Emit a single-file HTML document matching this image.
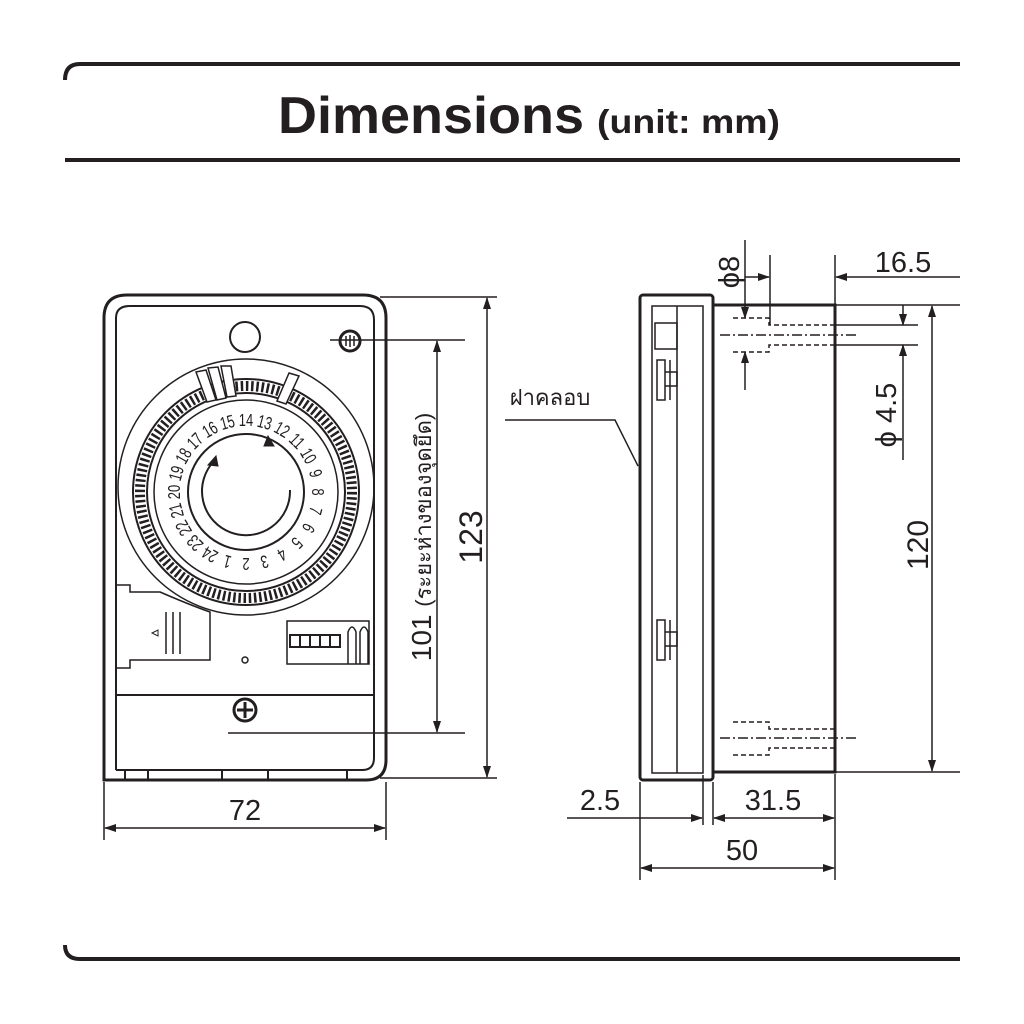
<!DOCTYPE html>
<html><head><meta charset="utf-8"><style>
html,body{margin:0;padding:0;background:#fff;}
svg{display:block;}
text{font-family:"Liberation Sans","Noto Sans CJK SC",sans-serif;fill:#231f20;}
</style></head><body>
<svg width="1024" height="1024" viewBox="0 0 1024 1024" xmlns="http://www.w3.org/2000/svg">
<defs>
<marker id="a" markerWidth="12" markerHeight="8" refX="11" refY="4" orient="auto-start-reverse" markerUnits="userSpaceOnUse"><path d="M0,0 L12,4 L0,8 Z" fill="#231f20"/></marker>
</defs>
<g stroke="#231f20" fill="none">
<path d="M65,80 Q65,64 80,64 L960,64" stroke-width="4"/>
<line x1="65" y1="160" x2="960" y2="160" stroke-width="4"/>
<path d="M65,945 Q65,959 80,959 L960,959" stroke-width="4"/>
</g>
<text x="278" y="133" font-size="52" font-weight="bold" textLength="306" lengthAdjust="spacingAndGlyphs">Dimensions</text>
<text x="597" y="133" font-size="33" font-weight="bold" textLength="183" lengthAdjust="spacingAndGlyphs">(unit: mm)</text>

<g stroke="#231f20" fill="none" stroke-width="3">
<path d="M104,780 L104,318 Q104,295 127,295 L363,295 Q386,295 386,318 L386,760 Q386,780 366,780 Z"/>
<path d="M116,770 L116,318 Q116,306 130,306 L360,306 Q374,306 374,320 L374,758 Q374,770 362,770 L116,770" stroke-width="2"/>
<path d="M125,770 L125,780 M148,770 L148,780 M222,770 L222,780 M268,770 L268,780 M347,770 L347,780" stroke-width="2"/>
<line x1="116" y1="695" x2="374" y2="695" stroke-width="2"/>
<circle cx="245" cy="337" r="15" stroke-width="2"/>
<circle cx="350" cy="341" r="10" stroke-width="3"/>
<path d="M346,336v10M350,335v12M354,336v10" stroke-width="1.5"/>
<circle cx="245" cy="710" r="11" stroke-width="3"/>
<path d="M245,702v16M237,710h16" stroke-width="3"/>
<circle cx="245" cy="660" r="3" stroke-width="1.5"/>
<circle cx="246" cy="487" r="128" stroke-width="1.5"/>
<circle cx="246" cy="492" r="113" stroke-width="2"/>
<circle cx="246" cy="492" r="106" stroke-width="10" stroke-dasharray="2.5 2.7"/>
<circle cx="246" cy="492" r="99" stroke-width="2"/>
<circle cx="246" cy="492" r="92" stroke-width="1.5"/>
<circle cx="246" cy="492" r="58" stroke-width="2"/>
<path d="M290,490 A44,44 0 1 1 214,461" stroke-width="2"/>
<path d="M208,465 L216,456 L218,466 Z" fill="#231f20" stroke-width="1"/>
<path d="M268,436 L274,446 L264,446 Z" fill="#231f20" stroke-width="1"/>
<path d="M196,372 L206,370 L216,400 L207,402 Z M208,368 L218,367 L226,398 L217,400 Z M221,366 L231,366 L236,396 L227,397 Z M289,373 L299,376 L286,404 L277,401 Z" fill="#fff" stroke-width="1.5"/>
<path d="M116,585 L130,585 L130,592 L160,592 Q190,605 210,612 L210,660 L130,660 L130,668 L116,668" stroke-width="1.5"/>
<path d="M166,612v42M173,612v42M180,612v42" stroke-width="1.5"/>
<path d="M152,633 L158,630 L158,636 Z" stroke-width="1"/>
<rect x="287" y="621" width="82" height="43" stroke-width="1.5"/>
<rect x="290" y="635" width="50" height="12" stroke-width="2"/>
<path d="M300,635v12M310,635v12M320,635v12M330,635v12" stroke-width="2"/>
<path d="M348,664 L348,632 Q352,622 356,632 L356,664 M360,664 L360,632 Q364,622 368,632 L368,664" stroke-width="1.5"/>
<g stroke-width="1.5">
<line x1="380" y1="297" x2="497" y2="297"/>
<line x1="380" y1="778" x2="497" y2="778"/>
<line x1="487" y1="298" x2="487" y2="777" marker-start="url(#a)" marker-end="url(#a)"/>
<line x1="330" y1="340" x2="465" y2="340"/>
<line x1="228" y1="733" x2="465" y2="733"/>
<line x1="437" y1="341" x2="437" y2="732" marker-start="url(#a)" marker-end="url(#a)"/>
<line x1="104" y1="782" x2="104" y2="840"/>
<line x1="386" y1="782" x2="386" y2="840"/>
<line x1="105" y1="828" x2="385" y2="828" marker-start="url(#a)" marker-end="url(#a)"/>
</g>
</g>
<g font-size="18" text-anchor="middle" font-family="Liberation Sans Narrow, Liberation Sans, sans-serif">
<text transform="translate(246,492) rotate(0) translate(0,-66) scale(0.72,1)">14</text>
<text transform="translate(246,492) rotate(15) translate(0,-66) scale(0.72,1)">13</text>
<text transform="translate(246,492) rotate(30) translate(0,-66) scale(0.72,1)">12</text>
<text transform="translate(246,492) rotate(45) translate(0,-66) scale(0.72,1)">11</text>
<text transform="translate(246,492) rotate(60) translate(0,-66) scale(0.72,1)">10</text>
<text transform="translate(246,492) rotate(75) translate(0,-66) scale(0.72,1)">9</text>
<text transform="translate(246,492) rotate(90) translate(0,-66) scale(0.72,1)">8</text>
<text transform="translate(246,492) rotate(105) translate(0,-66) scale(0.72,1)">7</text>
<text transform="translate(246,492) rotate(120) translate(0,-66) scale(0.72,1)">6</text>
<text transform="translate(246,492) rotate(135) translate(0,-66) scale(0.72,1)">5</text>
<text transform="translate(246,492) rotate(150) translate(0,-66) scale(0.72,1)">4</text>
<text transform="translate(246,492) rotate(165) translate(0,-66) scale(0.72,1)">3</text>
<text transform="translate(246,492) rotate(180) translate(0,-66) scale(0.72,1)">2</text>
<text transform="translate(246,492) rotate(195) translate(0,-66) scale(0.72,1)">1</text>
<text transform="translate(246,492) rotate(210) translate(0,-66) scale(0.72,1)">24</text>
<text transform="translate(246,492) rotate(225) translate(0,-66) scale(0.72,1)">23</text>
<text transform="translate(246,492) rotate(240) translate(0,-66) scale(0.72,1)">22</text>
<text transform="translate(246,492) rotate(255) translate(0,-66) scale(0.72,1)">21</text>
<text transform="translate(246,492) rotate(270) translate(0,-66) scale(0.72,1)">20</text>
<text transform="translate(246,492) rotate(285) translate(0,-66) scale(0.72,1)">19</text>
<text transform="translate(246,492) rotate(300) translate(0,-66) scale(0.72,1)">18</text>
<text transform="translate(246,492) rotate(315) translate(0,-66) scale(0.72,1)">17</text>
<text transform="translate(246,492) rotate(330) translate(0,-66) scale(0.72,1)">16</text>
<text transform="translate(246,492) rotate(345) translate(0,-66) scale(0.72,1)">15</text>
</g>
<text x="245" y="820" font-size="29" text-anchor="middle">72</text>
<text transform="translate(482,537) rotate(-90)" font-size="32" text-anchor="middle">123</text>
<text transform="translate(431,537) rotate(-90)" font-size="28" text-anchor="middle">101 <tspan font-size="22">(ระยะห่างของจุดยึด)</tspan></text>

<g stroke="#231f20" fill="none" stroke-width="3">
<rect x="640" y="295" width="73" height="485" rx="3"/>
<rect x="713" y="305" width="122" height="467"/>
<path d="M652,773 L652,306 L703,306 L703,773 Z" stroke-width="1.5"/>
<line x1="677" y1="306" x2="677" y2="773" stroke-width="1.5"/>
<rect x="655" y="323" width="22" height="26" stroke-width="1.5"/>
<path d="M657,360h8v40h-8z M665,372h12v14h-12 M670,360v40" stroke-width="1.5"/>
<path d="M657,620h8v40h-8z M665,632h12v14h-12 M670,620v40" stroke-width="1.5"/>
<g stroke-width="1.5">
<path d="M733,318h36v7h66 M733,352h36v-7h66 M733,722h36v7h66 M733,755h36v-7h66" stroke-dasharray="5 3"/>
<path d="M720,335h137 M720,738h137" stroke-dasharray="10 3 2 3"/>
<line x1="770" y1="255" x2="770" y2="325"/>
<line x1="835" y1="255" x2="835" y2="305"/>
<line x1="745" y1="277" x2="769" y2="277" marker-end="url(#a)"/>
<line x1="960" y1="277" x2="836" y2="277" marker-end="url(#a)"/>
<line x1="745" y1="240" x2="745" y2="318" marker-end="url(#a)"/>
<line x1="745" y1="390" x2="745" y2="352" marker-end="url(#a)"/>
<line x1="835" y1="325" x2="918" y2="325"/>
<line x1="835" y1="345" x2="918" y2="345"/>
<line x1="903" y1="305" x2="903" y2="325" marker-end="url(#a)"/>
<line x1="903" y1="460" x2="903" y2="345" marker-end="url(#a)"/>
<line x1="835" y1="305" x2="960" y2="305"/>
<line x1="835" y1="772" x2="960" y2="772"/>
<line x1="932" y1="306" x2="932" y2="771" marker-start="url(#a)" marker-end="url(#a)"/>
<path d="M505,420 L615,420 L638,466"/>
<line x1="640" y1="782" x2="640" y2="880"/>
<line x1="703" y1="775" x2="703" y2="825"/>
<line x1="713" y1="782" x2="713" y2="825"/>
<line x1="835" y1="774" x2="835" y2="880"/>
<line x1="567" y1="818" x2="702" y2="818" marker-end="url(#a)"/>
<line x1="714" y1="818" x2="834" y2="818" marker-start="url(#a)" marker-end="url(#a)"/>
<line x1="641" y1="868" x2="834" y2="868" marker-start="url(#a)" marker-end="url(#a)"/>
</g>
</g>
<text x="903" y="272" font-size="29" text-anchor="middle">16.5</text>
<text transform="translate(739,272) rotate(-90)" font-size="29" text-anchor="middle">ϕ8</text>
<text transform="translate(896,415) rotate(-90)" font-size="29" text-anchor="middle">ϕ 4.5</text>
<text transform="translate(928,545) rotate(-90)" font-size="30" text-anchor="middle">120</text>
<text x="550" y="405" font-size="22" text-anchor="middle">ฝาคลอบ</text>
<text x="600" y="810" font-size="29" text-anchor="middle">2.5</text>
<text x="773" y="810" font-size="29" text-anchor="middle">31.5</text>
<text x="742" y="860" font-size="29" text-anchor="middle">50</text>
</svg>
</body></html>
